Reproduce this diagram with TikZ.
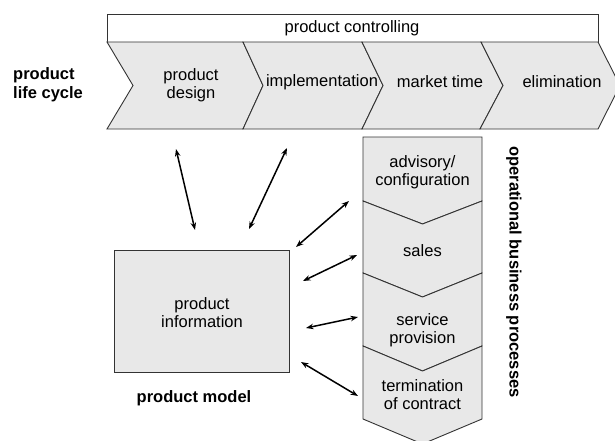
\documentclass[tikz,border=0pt]{standalone}
\usepackage{fontspec}
\setmainfont{Liberation Sans}
\usetikzlibrary{arrows.meta}
\definecolor{shapefill}{HTML}{E8E8E8}
\definecolor{edge}{HTML}{333333}
\begin{document}
\begin{tikzpicture}[x=1pt,y=-1pt,
  shapebox/.style={draw=edge,fill=shapefill,line width=0.9pt},
  lbl/.style={font=\fontsize{16.5}{18}\selectfont,align=center,inner sep=0pt},
  blbl/.style={font=\fontsize{16.5}{19}\selectfont\bfseries,inner sep=0pt},
  link/.style={line width=1.5pt,{Stealth[length=7.5pt,width=5.5pt]}-{Stealth[length=7.5pt,width=5.5pt]}}]
\useasboundingbox (0,0) rectangle (615,441);
\fill[white] (0,0) rectangle (615,441);
% top bar
\draw[draw=edge,fill=white,line width=0.9pt] (107,14) rectangle (598,42);
\node[lbl] (ctrl) at (352,28) {product controlling};
% horizontal chevrons
\draw[shapebox] (107,42) -- (243,42) -- (263,85.5) -- (243,129) -- (107,129) -- (133,85.5) -- cycle;
\draw[shapebox] (243,42) -- (362,42) -- (383,85.5) -- (362,129) -- (243,129) -- (263,85.5) -- cycle;
\draw[shapebox] (362,42) -- (481,42) -- (503,85.5) -- (480,129) -- (362,129) -- (383,85.5) -- cycle;
\draw[shapebox] (481,42) -- (598,42) -- (620,85.5) -- (598,129) -- (480,129) -- (503,85.5) -- cycle;
\node[lbl] (design) at (191,85) {product\\design};
\node[lbl] (impl) at (322,82) {implementation};
\node[lbl] (market) at (440,82) {market time};
\node[lbl] (elim) at (562,82) {elimination};
\node[blbl,align=left,anchor=west] (plc) at (13,85) {product\\life cycle};
% vertical chevrons
\draw[shapebox] (363,137) -- (482,137) -- (482,201) -- (422.5,224) -- (363,201) -- cycle;
\draw[shapebox] (363,201) -- (422.5,224) -- (482,201) -- (482,273) -- (422.5,297) -- (363,273) -- cycle;
\draw[shapebox] (363,273) -- (422.5,297) -- (482,273) -- (482,346) -- (422.5,371) -- (363,346) -- cycle;
\draw[shapebox] (363,346) -- (422.5,371) -- (482,346) -- (482,419) -- (422.5,444) -- (363,419) -- cycle;
\node[lbl] (advis) at (422.5,172) {advisory/\\configuration};
\node[lbl] (sales) at (422.5,251) {sales};
\node[lbl] (serv) at (422.5,330) {service\\provision};
\node[lbl] (term) at (422.5,395) {termination\\of contract};
\node[blbl,rotate=-90] (obp) at (514,272) {operational business processes};
% product information
\node[shapebox,minimum width=175pt,minimum height=122pt,inner sep=0pt] (pinfo) at (201.5,311) {};
\node[lbl] (pinfotext) at (202,313) {product\\information};
\node[blbl] (pmodel) at (194,398) {product model};
% arrows
\coordinate (a1s) at (176,149); \coordinate (a1e) at (195,230);
\coordinate (a2s) at (287,148); \coordinate (a2e) at (249,229);
\coordinate (a3s) at (349,201); \coordinate (a3e) at (296,247);
\coordinate (a4s) at (357,255); \coordinate (a4e) at (303,281);
\coordinate (a5s) at (358,317); \coordinate (a5e) at (306,328);
\coordinate (a6s) at (301,362); \coordinate (a6e) at (358,396);
\draw[link] (a1s) -- (a1e);
\draw[link] (a2s) -- (a2e);
\draw[link] (a3s) -- (a3e);
\draw[link] (a4s) -- (a4e);
\draw[link] (a5s) -- (a5e);
\draw[link] (a6s) -- (a6e);
\end{tikzpicture}
\end{document}
